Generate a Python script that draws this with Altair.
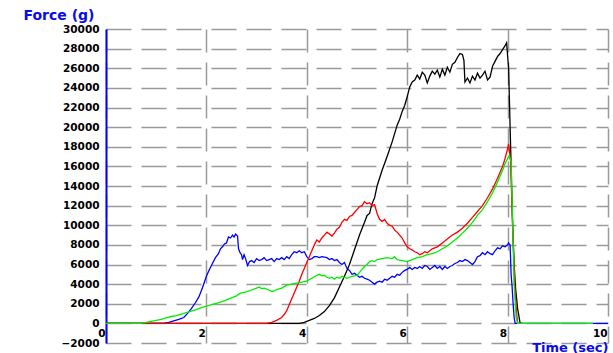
import altair as alt
import pandas as pd

# Force traces (grams) against time (seconds), four test runs
blue_t = [0, 1.15, 1.25, 1.35, 1.45, 1.55, 1.62, 1.70, 1.78, 1.85, 1.92, 2.00, 2.06, 2.12, 2.18,
          2.24, 2.28, 2.32, 2.36, 2.40, 2.44, 2.48, 2.52, 2.55, 2.58, 2.62, 2.64, 2.67, 2.70, 2.72,
          2.75, 2.78, 2.82, 2.86, 2.90, 2.95, 3.00, 3.05, 3.10, 3.15, 3.20, 3.25, 3.30, 3.35, 3.40,
          3.45, 3.50, 3.55, 3.60, 3.65, 3.70, 3.75, 3.80, 3.85, 3.90, 3.95, 4.00, 4.05, 4.10, 4.15,
          4.20, 4.25, 4.30, 4.40, 4.45, 4.50, 4.55, 4.60, 4.65, 4.70, 4.75, 4.80, 4.85, 4.90, 4.95,
          5.00, 5.05, 5.10, 5.15, 5.20, 5.25, 5.30, 5.35, 5.40, 5.45, 5.50, 5.55, 5.60, 5.65, 5.70,
          5.75, 5.80, 5.85, 5.90, 5.95, 6.00, 6.05, 6.10, 6.15, 6.20, 6.25, 6.30, 6.35, 6.40, 6.45,
          6.50, 6.55, 6.60, 6.65, 6.70, 6.75, 6.80, 6.85, 6.90, 6.95, 7.00, 7.05, 7.10, 7.15, 7.20,
          7.25, 7.30, 7.35, 7.40, 7.45, 7.50, 7.55, 7.60, 7.65, 7.70, 7.75, 7.80, 7.85, 7.90, 7.95,
          8.00, 8.02, 8.05, 8.07, 8.09, 8.11, 8.13, 8.15, 10.0]
blue_f = [0, 0, 100, 250, 400, 600, 1000, 1500, 2100, 2700, 3600, 4800, 5500, 6100, 6700,
          7100, 7600, 7800, 8100, 8200, 8800, 8700, 9000, 8800, 9100, 8900, 7600, 7200, 7000, 6500,
          7000, 6600, 5900, 6300, 6400, 6200, 6600, 6400, 6500, 6700, 6400, 6500, 6600, 6300, 6600,
          6500, 6700, 6500, 6800, 6600, 7000, 7300, 7200, 7400, 7200, 7300, 6800, 6500, 6600, 6800,
          6800, 6700, 6800, 6700, 6500, 6600, 6400, 6500, 6200, 6000, 6200, 5600, 5400, 5000, 5100,
          4900, 4700, 4800, 4600, 4500, 4400, 4200, 4000, 4200, 4300, 4200, 4500, 4400, 4600, 4800,
          4700, 5000, 4900, 5200, 5400, 5500, 5700, 5500, 5700, 5600, 5800, 5600, 5900, 5800, 5500,
          5700, 5900, 5600, 5800, 5500, 5800, 5600, 5800, 5900, 6100, 6200, 6400, 6300, 6500, 6400,
          6200, 6000, 6300, 6800, 6900, 7200, 7000, 7300, 7100, 7000, 7400, 7700, 7600, 7900, 7800,
          8000, 8200, 8000, 5000, 3700, 2000, 600, 0, 0]

black_t = [0, 3.85, 3.95, 4.05, 4.15, 4.25, 4.35, 4.45, 4.55, 4.65, 4.75, 4.85, 4.95, 5.05, 5.15,
           5.20, 5.25, 5.30, 5.35, 5.40, 5.50, 5.60, 5.70, 5.80, 5.85, 5.90, 5.95, 6.00, 6.05, 6.10,
           6.15, 6.20, 6.25, 6.30, 6.35, 6.40, 6.45, 6.50, 6.55, 6.60, 6.65, 6.70, 6.75, 6.80, 6.85,
           6.90, 6.95, 7.00, 7.05, 7.10, 7.13, 7.15, 7.20, 7.25, 7.30, 7.35, 7.40, 7.45, 7.50, 7.55,
           7.60, 7.65, 7.70, 7.75, 7.80, 7.85, 7.90, 7.95, 7.98, 8.02, 8.05, 8.08, 8.10, 8.13, 8.16,
           8.20, 8.25, 8.30]
black_f = [0, 0, 100, 300, 500, 800, 1200, 1800, 2600, 3700, 4800, 6000, 7500, 9000, 10300,
           11000, 11200, 12200, 12800, 14000, 15600, 17000, 18500, 20200, 20800, 21600, 22200, 23100, 24100, 24600,
           24800, 25300, 24900, 25600, 25300, 24500, 25200, 25700, 25400, 25800, 25100, 25900, 25300, 26100, 25600,
           26400, 26600, 27100, 27500, 27400, 26800, 24600, 25000, 24500, 25200, 24800, 25500, 25000, 25300, 25700,
           24800, 25100, 26200, 26700, 27200, 27500, 27900, 28300, 28600, 26000, 20000, 14000, 10000, 6000, 3500,
           1500, 0, 0]

red_t = [0, 3.20, 3.30, 3.40, 3.50, 3.55, 3.60, 3.65, 3.70, 3.75, 3.80, 3.85, 3.90, 3.95, 4.00,
         4.05, 4.10, 4.15, 4.20, 4.25, 4.30, 4.35, 4.40, 4.45, 4.50, 4.55, 4.60, 4.65, 4.70, 4.75,
         4.80, 4.85, 4.90, 4.95, 5.00, 5.05, 5.10, 5.15, 5.20, 5.25, 5.30, 5.35, 5.40, 5.45, 5.50,
         5.55, 5.60, 5.65, 5.70, 5.75, 5.80, 5.85, 5.90, 5.95, 6.00, 6.05, 6.10, 6.15, 6.20, 6.25,
         6.30, 6.35, 6.40, 6.50, 6.60, 6.70, 6.80, 6.90, 7.00, 7.10, 7.20, 7.30, 7.40, 7.50, 7.60,
         7.70, 7.80, 7.90, 7.95, 8.00, 8.02, 8.06, 8.10, 8.14, 8.18, 8.20, 8.30]
red_f = [0, 0, 100, 300, 600, 900, 1300, 1900, 2500, 3100, 3700, 4300, 5000, 5600, 6200,
         6800, 7400, 8000, 8500, 8300, 8700, 9000, 9300, 9100, 8900, 9200, 9600, 9800, 10300, 10600,
         10500, 10900, 11000, 11300, 11600, 11900, 12000, 12400, 12200, 12300, 12000, 12100, 11200, 10600, 10400,
         10600, 10200, 10000, 9900, 9500, 9300, 9000, 8700, 8200, 7800, 7600, 7500, 7300, 7200, 7000,
         7100, 7300, 7200, 7600, 7800, 8200, 8600, 9000, 9300, 9700, 10200, 10800, 11400, 12000, 12800,
         13700, 14800, 16000, 16800, 17800, 18300, 16500, 10000, 4000, 1000, 0, 0]

green_t = [0, 0.70, 0.80, 0.90, 1.00, 1.10, 1.20, 1.30, 1.40, 1.50, 1.60, 1.70, 1.80, 1.90, 2.00,
           2.10, 2.20, 2.30, 2.40, 2.50, 2.60, 2.65, 2.70, 2.80, 2.90, 3.00, 3.05, 3.10, 3.15, 3.20,
           3.25, 3.30, 3.35, 3.40, 3.50, 3.60, 3.70, 3.80, 3.90, 4.00, 4.10, 4.20, 4.25, 4.30, 4.35,
           4.40, 4.45, 4.50, 4.55, 4.60, 4.65, 4.70, 4.75, 4.80, 4.85, 4.90, 5.00, 5.05, 5.10, 5.15,
           5.20, 5.25, 5.30, 5.35, 5.40, 5.50, 5.60, 5.70, 5.75, 5.80, 5.90, 6.00, 6.10, 6.20, 6.30,
           6.40, 6.50, 6.60, 6.70, 6.80, 6.90, 7.00, 7.10, 7.20, 7.30, 7.40, 7.50, 7.60, 7.70, 7.80,
           7.90, 7.95, 8.03, 8.07, 8.10, 8.13, 8.17, 8.20, 9.70]
green_f = [0, 0, 100, 200, 300, 400, 550, 700, 800, 950, 1100, 1250, 1400, 1600, 1750,
           1900, 2050, 2200, 2400, 2600, 2800, 3000, 3100, 3200, 3400, 3600, 3700, 3550, 3600, 3500,
           3400, 3250, 3300, 3450, 3600, 3900, 4000, 4100, 4200, 4300, 4600, 4900, 5000, 4850, 4900,
           4700, 4600, 4700, 4500, 4700, 4600, 4800, 4700, 4600, 4700, 4800, 4900, 5200, 5500, 5800,
           6000, 6300, 6400, 6300, 6500, 6600, 6700, 6600, 6800, 6500, 6400, 6300, 6500, 6700, 6800,
           7000, 7100, 7300, 7600, 7900, 8300, 8700, 9200, 9700, 10300, 11000, 11600, 12400, 13300, 14400,
           15600, 16300, 17100, 16500, 10500, 4000, 600, 0, 0]

x_ticks = [0, 2, 4, 6, 8, 10]
y_ticks = list(range(-2000, 30001, 2000))

series = [
    ("blue", blue_t, blue_f, "#0000ff"),
    ("black", black_t, black_f, "#000000"),
    ("red", red_t, red_f, "#ff0000"),
    ("green", green_t, green_f, "#00ee00"),
]

LABEL_FONT = "DejaVu Sans"
TITLE_BLUE = "#0a0af0"

x_enc = alt.X(
    "t:Q",
    scale=alt.Scale(domain=[0, 10], nice=False, zero=False),
    axis=alt.Axis(
        values=x_ticks,
        format="d",
        offset=-20,
        grid=True,
        gridColor="#9a9a9a",
        gridWidth=1.5,
        gridDash=[23, 10],
        ticks=False,
        tickSize=0,
        domain=False,
        labelAlign="right",
        labelBaseline="top",
        labelPadding=5,
        labelOffset=-1,
        labelFont=LABEL_FONT,
        labelFontWeight="bold",
        labelFontSize=10.5,
        labelColor="#000000",
        labelFlush=False,
        labelOverlap=False,
        title="Time (sec)",
        titleFont=LABEL_FONT,
        titleFontWeight="bold",
        titleFontSize=13,
        titleColor=TITLE_BLUE,
        titleAlign="right",
        titleBaseline="alphabetic",
        titleAnchor="end",
        titleX=502,
        titleY=28,
        zindex=0,
    ),
)

y_enc = alt.Y(
    "f:Q",
    scale=alt.Scale(domain=[-2000, 30000], nice=False, zero=False),
    axis=alt.Axis(
        values=y_ticks,
        format="d",
        grid=True,
        gridColor="#9a9a9a",
        gridWidth=1.5,
        gridDash=[25, 10],
        ticks=False,
        tickSize=0,
        domain=True,
        domainColor="#0000ff",
        domainWidth=2,
        labelPadding=7,
        labelFont=LABEL_FONT,
        labelFontWeight="bold",
        labelFontSize=10.5,
        labelColor="#000000",
        labelOverlap=False,
        labelFlush=False,
        title="Force (g)",
        titleFont=LABEL_FONT,
        titleFontWeight="bold",
        titleFontSize=14,
        titleColor=TITLE_BLUE,
        titleAngle=0,
        titleAlign="left",
        titleBaseline="alphabetic",
        titleX=-83,
        titleY=-10,
        zindex=0,
    ),
)

layers = []
for name, ts, fs, color in series:
    df = pd.DataFrame({"t": ts, "f": fs})
    layers.append(
        alt.Chart(df)
        .mark_line(color=color, strokeWidth=1.3, interpolate="linear")
        .encode(x=x_enc, y=y_enc, order="t:Q")
    )

chart = (
    alt.layer(*layers)
    .properties(
        width=502,
        height=314,
        autosize=alt.AutoSizeParams(type="none"),
        padding={"left": 106, "top": 29, "right": 5, "bottom": 10},
        background="#ffffff",
    )
    .configure_view(stroke=None)
)

chart.save("out.html", embed_options={"renderer": "svg", "actions": False})
